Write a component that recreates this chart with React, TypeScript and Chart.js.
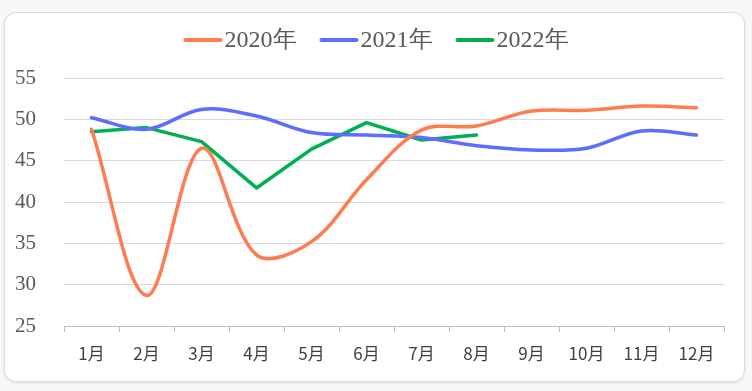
import React, { useEffect, useRef } from "react";
import { Chart, registerables } from "chart.js";

Chart.register(...registerables);

const categories = ["1月", "2月", "3月", "4月", "5月", "6月", "7月", "8月", "9月", "10月", "11月", "12月"];
const series2020 = [48.8, 28.7, 46.5, 33.6, 35.2, 42.7, 48.7, 49.2, 51.0, 51.1, 51.6, 51.4];
const series2021 = [50.2, 48.8, 51.2, 50.4, 48.4, 48.1, 47.8, 46.8, 46.3, 46.5, 48.6, 48.1];
const series2022 = [48.5, 49.0, 47.3, 41.7, 46.4, 49.6, 47.5, 48.1];
const seriesNames = ["2020年", "2021年", "2022年"];
const seriesColors = ["#FF7C50", "#5D6DFF", "#00B050"];
const yMin = 25;
const yMax = 55;
const yStep = 5;

const legendPlugin = {
  id: "customLegend",
  afterDraw(chart: any) {
    const ctx = chart.ctx;
    ctx.save();
    ctx.font = '24px "Liberation Serif", "Times New Roman", serif';
    ctx.textBaseline = "middle";
    const markerW = 39;
    const gapText = 2;
    const gapItem = 23;
    const widths = seriesNames.map((n) => markerW + gapText + ctx.measureText(n).width);
    const total = widths.reduce((a, b) => a + b, 0) + gapItem * (widths.length - 1);
    let x = chart.width / 2 - total / 2;
    const y = 40;
    seriesNames.forEach((name, i) => {
      ctx.strokeStyle = seriesColors[i];
      ctx.lineWidth = 4;
      ctx.lineCap = "round";
      ctx.beginPath();
      ctx.moveTo(x + 2, y);
      ctx.lineTo(x + markerW - 2, y);
      ctx.stroke();
      ctx.fillStyle = "#595959";
      ctx.textAlign = "left";
      ctx.fillText(name, x + markerW + gapText, y + 1);
      x += widths[i] + gapItem;
    });
    ctx.restore();
  },
};

export default function App() {
  const canvasRef = useRef<HTMLCanvasElement | null>(null);

  useEffect(() => {
    const canvas = canvasRef.current;
    if (!canvas) return;
    const chart = new Chart(canvas, {
      type: "line",
      data: {
        labels: categories,
        datasets: [
          {
            label: seriesNames[0],
            data: series2020,
            borderColor: seriesColors[0],
            backgroundColor: seriesColors[0],
            borderWidth: 3.5,
            pointRadius: 0,
            tension: 0.35,
            borderCapStyle: "round",
            borderJoinStyle: "round",
          },
          {
            label: seriesNames[1],
            data: series2021,
            borderColor: seriesColors[1],
            backgroundColor: seriesColors[1],
            borderWidth: 3.5,
            pointRadius: 0,
            tension: 0.35,
            borderCapStyle: "round",
            borderJoinStyle: "round",
          },
          {
            label: seriesNames[2],
            data: series2022,
            borderColor: seriesColors[2],
            backgroundColor: seriesColors[2],
            borderWidth: 3.5,
            pointRadius: 0,
            tension: 0,
            borderCapStyle: "round",
            borderJoinStyle: "round",
          },
        ],
      },
      options: {
        responsive: false,
        animation: false,
        devicePixelRatio: 1,
        layout: { padding: { top: 78, right: 28, left: 0, bottom: 0 } },
        plugins: {
          legend: { display: false },
          tooltip: { enabled: false },
        },
        scales: {
          x: {
            type: "category",
            offset: true,
            grid: {
              drawOnChartArea: false,
              drawTicks: true,
              tickLength: 6,
              color: "#bfbfbf",
              offset: true,
            },
            border: { display: true, color: "#bfbfbf", width: 1 },
            ticks: {
              color: "#404040",
              font: { family: '"Noto Sans CJK SC", "Noto Sans", sans-serif', size: 17 },
              padding: 11,
              maxRotation: 0,
              autoSkip: false,
            },
            afterFit(scale: any) {
              scale.height = 65;
            },
          },
          y: {
            min: yMin,
            max: yMax,
            grid: { color: "#d9d9d9", lineWidth: 1, drawTicks: false },
            border: { display: false },
            ticks: {
              stepSize: yStep,
              color: "#595959",
              font: { family: '"Liberation Serif", "Times New Roman", serif', size: 21 },
              padding: 28,
            },
            afterFit(scale: any) {
              scale.width = 64;
            },
          },
        },
      },
      plugins: [legendPlugin],
    });
    return () => chart.destroy();
  }, []);

  return (
    <div
      style={{
        position: "fixed",
        left: 0,
        top: 0,
        width: 752,
        height: 391,
        background: "#f7f8f8",
        overflow: "hidden",
      }}
    >
      <div
        style={{
          position: "absolute",
          left: 4,
          top: 12,
          width: 741,
          height: 370,
          boxSizing: "border-box",
          border: "1px solid #dcdcdc",
          borderRadius: 12,
          background: "#ffffff",
          boxShadow: "0 1px 3px rgba(0,0,0,0.10)",
        }}
      />
      <canvas
        ref={canvasRef}
        width={752}
        height={391}
        style={{ position: "absolute", left: 0, top: 0, width: 752, height: 391 }}
      />
    </div>
  );
}
